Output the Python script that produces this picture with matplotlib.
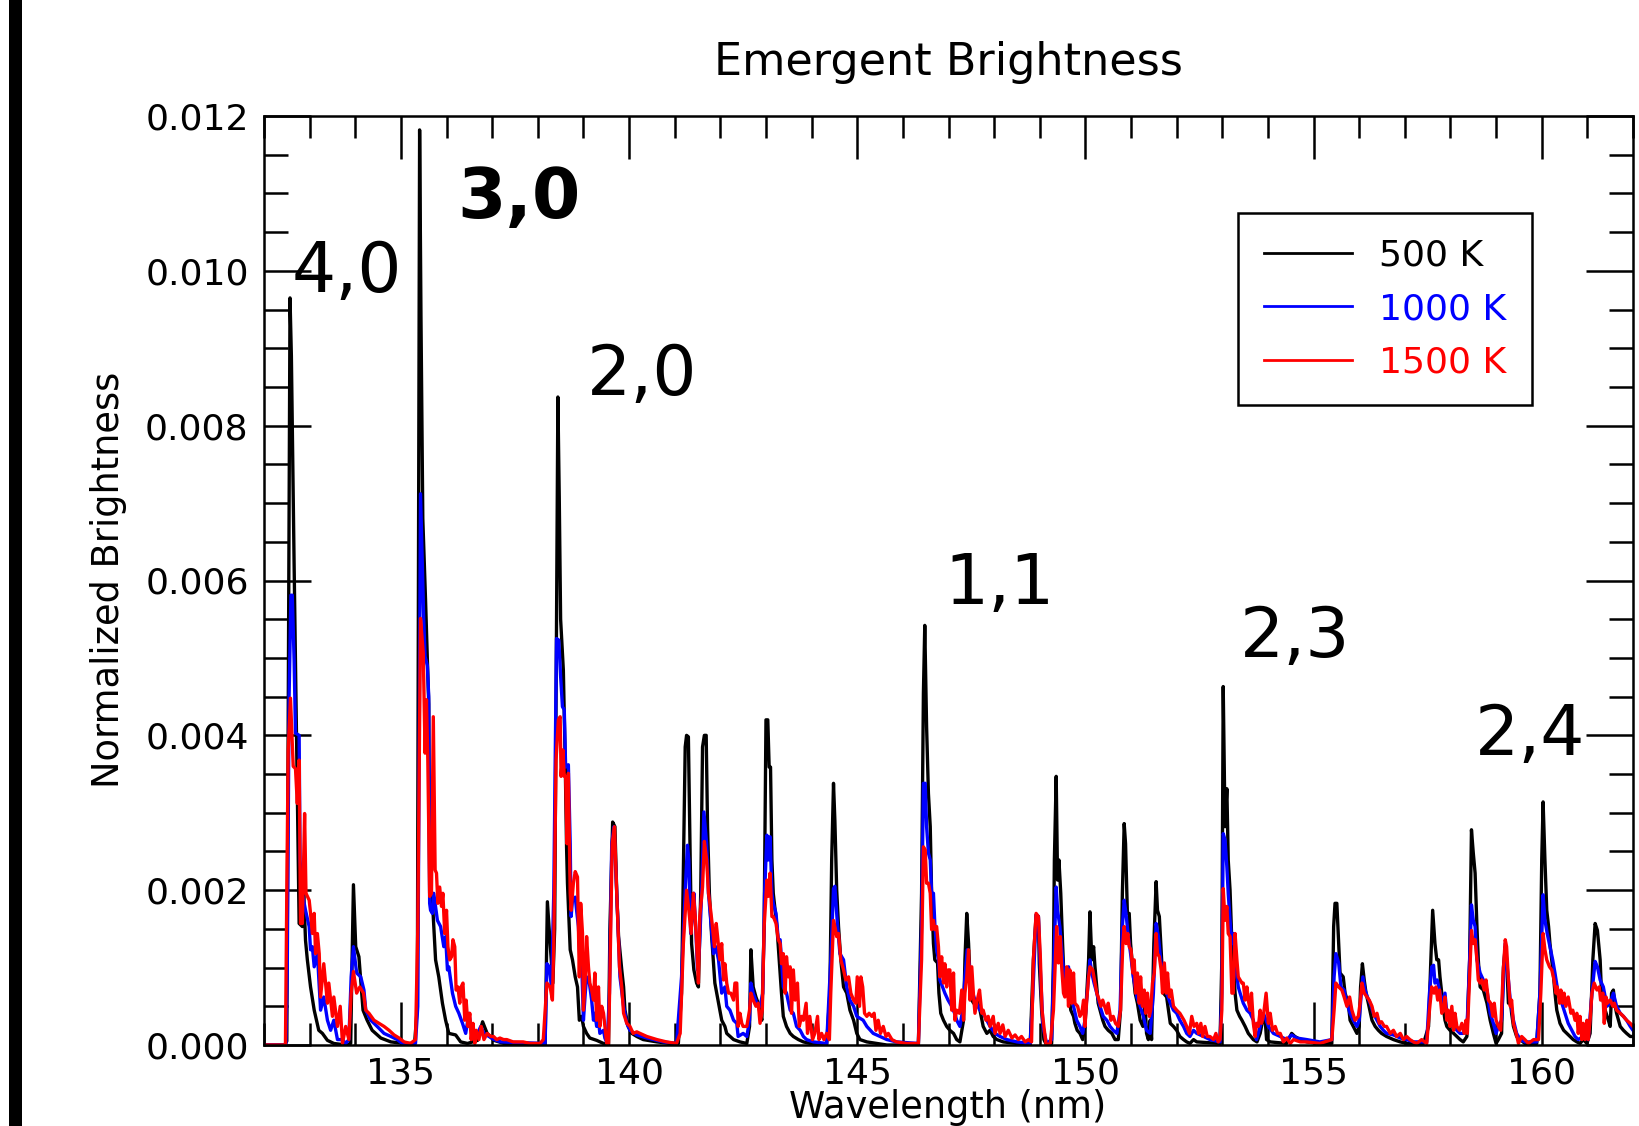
"""Emergent brightness spectra (500 K / 1000 K / 1500 K) with band labels."""

import matplotlib
matplotlib.use("Agg")
import matplotlib.pyplot as plt
import numpy as np
from matplotlib.patches import Rectangle
from matplotlib.ticker import FormatStrFormatter, MultipleLocator

# ── Data: (wavelength nm, normalized brightness in units of 1e-3) ───────────
SPEC_500K = [
    (132.00, 0.00), (132.45, 0.00), (132.50, 0.05), (132.57, 9.65), (132.60, 8.90),
    (132.66, 6.20), (132.77, 1.57), (132.84, 1.53), (132.87, 1.96), (132.91, 1.35),
    (132.95, 1.10), (133.02, 0.75), (133.10, 0.45), (133.20, 0.19), (133.28, 0.15),
    (133.39, 0.06), (133.53, 0.02), (133.80, 0.00), (133.90, 0.02), (133.93, 1.10),
    (133.96, 2.07), (134.01, 1.27), (134.08, 1.14), (134.13, 0.75), (134.17, 0.45),
    (134.26, 0.32), (134.37, 0.19), (134.56, 0.09), (134.78, 0.04), (135.07, 0.02),
    (135.30, 0.02), (135.36, 0.50), (135.41, 11.82), (135.44, 9.40), (135.48, 6.80),
    (135.54, 5.75), (135.58, 5.00), (135.61, 4.40), (135.63, 1.96), (135.69, 1.87),
    (135.76, 1.10), (135.83, 0.88), (135.91, 0.54), (135.98, 0.32), (136.05, 0.15),
    (136.20, 0.13), (136.31, 0.04), (136.46, 0.02), (136.68, 0.06), (136.79, 0.30),
    (136.89, 0.15), (137.04, 0.06), (137.26, 0.02), (137.68, 0.02), (138.12, 0.00),
    (138.16, 0.00), (138.21, 1.85), (138.27, 1.31), (138.33, 0.80), (138.37, 1.50),
    (138.40, 4.46), (138.44, 8.37), (138.47, 7.08), (138.50, 5.50), (138.56, 4.84),
    (138.60, 3.68), (138.63, 2.56), (138.65, 2.09), (138.71, 1.23), (138.76, 1.10),
    (138.82, 0.88), (138.87, 0.75), (138.91, 0.32), (138.96, 0.37), (139.00, 0.24),
    (139.07, 0.15), (139.14, 0.09), (139.29, 0.06), (139.44, 0.02), (139.55, 0.00),
    (139.58, 1.50), (139.64, 2.88), (139.69, 2.82), (139.73, 1.96), (139.77, 1.40),
    (139.84, 0.97), (139.88, 0.75), (139.91, 0.45), (139.98, 0.24), (140.06, 0.15),
    (140.17, 0.11), (140.31, 0.07), (140.61, 0.04), (140.90, 0.02), (141.08, 0.02),
    (141.15, 0.67), (141.23, 3.85), (141.26, 4.00), (141.30, 3.98), (141.34, 2.39),
    (141.37, 1.31), (141.42, 0.97), (141.48, 0.80), (141.52, 0.75), (141.57, 1.96),
    (141.61, 3.85), (141.65, 4.00), (141.69, 4.00), (141.72, 2.82), (141.76, 1.96),
    (141.81, 1.40), (141.88, 0.80), (141.96, 0.54), (142.03, 0.32), (142.10, 0.24),
    (142.14, 0.15), (142.29, 0.07), (142.43, 0.04), (142.58, 0.02), (142.64, 0.24),
    (142.67, 1.23), (142.72, 0.75), (142.78, 0.62), (142.83, 0.54), (142.87, 0.41),
    (142.91, 0.32), (142.96, 1.53), (143.00, 4.20), (143.04, 4.20), (143.07, 3.59),
    (143.10, 3.59), (143.13, 2.39), (143.16, 1.96), (143.24, 1.53), (143.29, 1.10),
    (143.34, 0.67), (143.38, 0.37), (143.45, 0.24), (143.53, 0.15), (143.60, 0.11),
    (143.71, 0.07), (143.82, 0.04), (143.97, 0.02), (144.33, 0.00), (144.40, 0.67),
    (144.44, 2.39), (144.48, 3.38), (144.51, 2.90), (144.55, 2.00), (144.59, 1.53),
    (144.64, 1.10), (144.70, 0.75), (144.77, 0.67), (144.84, 0.45), (144.92, 0.32),
    (144.99, 0.15), (145.06, 0.07), (145.21, 0.04), (145.43, 0.02), (145.65, 0.00),
    (146.34, 0.00), (146.41, 1.96), (146.45, 4.54), (146.48, 5.42), (146.52, 4.11),
    (146.56, 3.25), (146.60, 2.82), (146.63, 1.96), (146.67, 1.31), (146.70, 1.10),
    (146.76, 1.06), (146.79, 0.67), (146.83, 0.41), (146.89, 0.32), (146.96, 0.24),
    (147.03, 0.19), (147.11, 0.15), (147.18, 0.07), (147.25, 0.04), (147.33, 0.32),
    (147.36, 1.10), (147.40, 1.70), (147.44, 1.31), (147.47, 0.88), (147.51, 0.58),
    (147.55, 0.54), (147.62, 0.58), (147.69, 0.45), (147.76, 0.24), (147.84, 0.15),
    (147.91, 0.19), (147.98, 0.11), (148.06, 0.07), (148.20, 0.04), (148.50, 0.02),
    (148.79, 0.00), (148.86, 1.10), (148.92, 1.68), (148.97, 1.66), (148.99, 1.05),
    (149.04, 0.45), (149.09, 0.07), (149.15, 0.00), (149.26, 0.02), (149.30, 1.10),
    (149.32, 2.39), (149.36, 3.47), (149.39, 2.13), (149.42, 2.39), (149.46, 1.96),
    (149.50, 1.31), (149.53, 0.88), (149.59, 0.75), (149.63, 0.67), (149.68, 0.45),
    (149.74, 0.37), (149.77, 0.28), (149.82, 0.19), (149.88, 0.15), (149.94, 0.07),
    (149.99, 0.24), (150.03, 0.67), (150.07, 1.10), (150.10, 1.72), (150.14, 1.10),
    (150.18, 1.27), (150.21, 1.01), (150.25, 0.75), (150.28, 0.54), (150.32, 0.45),
    (150.38, 0.32), (150.43, 0.24), (150.50, 0.19), (150.58, 0.15), (150.65, 0.07),
    (150.72, 0.07), (150.77, 0.45), (150.81, 1.96), (150.85, 2.86), (150.88, 2.60),
    (150.92, 1.70), (150.96, 1.70), (150.99, 1.31), (151.04, 0.97), (151.09, 0.67),
    (151.14, 0.54), (151.20, 0.32), (151.26, 0.24), (151.31, 0.50), (151.34, 0.15),
    (151.38, 0.07), (151.42, 0.32), (151.45, 0.07), (151.50, 1.31), (151.55, 2.11),
    (151.58, 1.74), (151.62, 1.66), (151.67, 1.10), (151.71, 0.67), (151.78, 0.62),
    (151.86, 0.28), (151.93, 0.24), (152.00, 0.19), (152.07, 0.11), (152.15, 0.07),
    (152.22, 0.04), (152.29, 0.02), (152.37, 0.07), (152.44, 0.04), (152.95, 0.02),
    (152.99, 1.10), (153.02, 4.63), (153.06, 2.82), (153.10, 3.31), (153.13, 2.39),
    (153.17, 2.00), (153.21, 1.31), (153.24, 1.10), (153.28, 0.67), (153.32, 0.45),
    (153.38, 0.37), (153.43, 0.32), (153.50, 0.24), (153.57, 0.15), (153.68, 0.07),
    (153.76, 0.04), (153.83, 0.15), (153.90, 0.37), (153.94, 0.32), (153.97, 0.07),
    (154.05, 0.04), (154.41, 0.02), (154.52, 0.15), (154.59, 0.11), (154.71, 0.07),
    (154.85, 0.04), (155.14, 0.02), (155.40, 0.02), (155.44, 1.53), (155.47, 1.83),
    (155.51, 1.83), (155.55, 1.31), (155.58, 0.93), (155.65, 0.88), (155.69, 0.67),
    (155.76, 0.54), (155.80, 0.32), (155.87, 0.24), (155.95, 0.15), (156.00, 0.24),
    (156.03, 0.75), (156.07, 1.05), (156.11, 0.84), (156.15, 0.67), (156.20, 0.54),
    (156.28, 0.32), (156.35, 0.24), (156.42, 0.19), (156.49, 0.15), (156.60, 0.11),
    (156.75, 0.07), (156.90, 0.04), (157.04, 0.02), (157.41, 0.02), (157.52, 0.24),
    (157.57, 1.10), (157.61, 1.74), (157.66, 1.31), (157.70, 1.10), (157.74, 1.10),
    (157.77, 0.88), (157.81, 0.67), (157.85, 0.45), (157.88, 0.32), (157.92, 0.24),
    (157.99, 0.19), (158.07, 0.15), (158.14, 0.11), (158.21, 0.07), (158.28, 0.04),
    (158.36, 0.11), (158.42, 1.10), (158.46, 2.78), (158.50, 2.48), (158.54, 2.22),
    (158.58, 1.53), (158.61, 1.10), (158.65, 0.75), (158.72, 0.71), (158.80, 0.54),
    (158.87, 0.32), (158.94, 0.15), (159.00, 0.02), (159.05, 0.07), (159.12, 0.15),
    (159.16, 1.00), (159.20, 1.27), (159.23, 1.10), (159.27, 0.54), (159.31, 0.58),
    (159.34, 0.41), (159.38, 0.24), (159.45, 0.11), (159.53, 0.07), (159.63, 0.02),
    (159.89, 0.02), (159.96, 0.67), (160.00, 2.39), (160.03, 3.14), (160.07, 2.39),
    (160.11, 1.74), (160.15, 1.53), (160.18, 1.31), (160.22, 1.10), (160.26, 0.88),
    (160.29, 0.67), (160.33, 0.45), (160.40, 0.28), (160.48, 0.19), (160.55, 0.15),
    (160.62, 0.11), (160.69, 0.07), (160.77, 0.04), (160.84, 0.02), (160.91, 0.07),
    (160.99, 0.02), (161.06, 0.15), (161.12, 1.10), (161.17, 1.57), (161.22, 1.48),
    (161.28, 1.10), (161.31, 0.67), (161.39, 0.45), (161.46, 0.32), (161.50, 0.24),
    (161.53, 0.67), (161.57, 0.71), (161.61, 0.50), (161.64, 0.41), (161.72, 0.24),
    (161.79, 0.19), (161.86, 0.15), (161.94, 0.11), (162.00, 0.11),
]

SPEC_1000K = [
    (132.00, 0.00), (132.48, 0.00), (132.51, 1.00), (132.55, 4.50), (132.59, 5.81),
    (132.62, 5.81), (132.66, 4.97), (132.69, 4.03), (132.77, 4.00), (132.79, 2.39),
    (132.84, 1.96), (132.91, 1.74), (132.99, 1.53), (133.02, 1.23), (133.06, 1.27),
    (133.10, 1.01), (133.17, 1.18), (133.24, 0.45), (133.31, 0.62), (133.39, 0.32),
    (133.46, 0.19), (133.53, 0.32), (133.61, 0.07), (133.72, 0.07), (133.79, 0.02),
    (133.86, 0.07), (133.91, 0.88), (133.96, 1.27), (134.03, 0.93), (134.12, 0.88),
    (134.19, 0.71), (134.23, 0.45), (134.34, 0.32), (134.48, 0.24), (134.63, 0.15),
    (134.78, 0.11), (134.92, 0.07), (135.03, 0.02), (135.21, 0.00), (135.32, 0.02),
    (135.37, 0.50), (135.43, 7.12), (135.50, 5.50), (135.53, 5.02), (135.58, 4.90),
    (135.61, 4.50), (135.63, 1.83), (135.65, 1.74), (135.69, 1.70), (135.72, 1.96),
    (135.76, 1.79), (135.80, 1.61), (135.87, 1.53), (135.94, 1.27), (135.98, 1.40),
    (136.02, 0.97), (136.05, 1.01), (136.13, 0.67), (136.20, 0.50), (136.27, 0.41),
    (136.35, 0.28), (136.42, 0.15), (136.49, 0.41), (136.57, 0.11), (136.68, 0.15),
    (136.75, 0.24), (136.82, 0.15), (136.93, 0.11), (137.04, 0.07), (137.19, 0.04),
    (137.68, 0.03), (138.16, 0.02), (138.20, 1.05), (138.25, 1.01), (138.30, 0.75),
    (138.35, 1.96), (138.41, 5.25), (138.46, 5.23), (138.50, 4.76), (138.54, 4.37),
    (138.58, 4.33), (138.61, 3.59), (138.67, 3.62), (138.71, 2.60), (138.73, 1.66),
    (138.76, 1.87), (138.82, 1.91), (138.85, 1.74), (138.89, 1.53), (138.93, 1.01),
    (138.96, 1.10), (139.00, 0.32), (139.04, 0.67), (139.07, 0.88), (139.13, 0.80),
    (139.18, 0.58), (139.22, 0.32), (139.25, 0.41), (139.29, 0.24), (139.33, 0.32),
    (139.36, 0.15), (139.44, 0.19), (139.47, 0.09), (139.52, 0.02), (139.57, 0.67),
    (139.62, 2.60), (139.67, 2.82), (139.73, 1.96), (139.80, 0.88), (139.88, 0.50),
    (139.95, 0.28), (140.02, 0.19), (140.17, 0.13), (140.39, 0.09), (140.75, 0.04),
    (141.04, 0.02), (141.15, 0.88), (141.23, 1.99), (141.28, 2.58), (141.31, 2.39),
    (141.35, 1.44), (141.39, 1.66), (141.42, 1.96), (141.46, 1.53), (141.50, 0.97),
    (141.54, 1.23), (141.59, 1.96), (141.64, 3.01), (141.70, 2.60), (141.74, 1.96),
    (141.79, 1.61), (141.85, 1.18), (141.90, 1.27), (141.96, 1.10), (142.03, 0.67),
    (142.10, 0.75), (142.14, 0.50), (142.21, 0.45), (142.29, 0.32), (142.36, 0.28),
    (142.39, 0.11), (142.50, 0.15), (142.58, 0.11), (142.64, 0.32), (142.67, 0.80),
    (142.72, 0.67), (142.80, 0.54), (142.87, 0.50), (142.93, 0.67), (142.97, 1.96),
    (143.02, 2.71), (143.05, 2.39), (143.09, 2.69), (143.13, 1.96), (143.16, 1.83),
    (143.22, 1.70), (143.27, 1.36), (143.31, 1.36), (143.38, 0.75), (143.45, 0.67),
    (143.53, 0.45), (143.60, 0.41), (143.67, 0.24), (143.75, 0.19), (143.82, 0.11),
    (143.89, 0.07), (144.04, 0.04), (144.33, 0.02), (144.42, 1.10), (144.48, 2.02),
    (144.51, 2.05), (144.56, 1.61), (144.62, 1.18), (144.70, 1.10), (144.77, 0.75),
    (144.84, 0.58), (144.92, 0.50), (144.99, 0.37), (145.13, 0.32), (145.21, 0.24),
    (145.35, 0.15), (145.50, 0.11), (145.65, 0.07), (145.86, 0.04), (146.34, 0.02),
    (146.41, 1.53), (146.45, 3.38), (146.49, 3.38), (146.52, 2.82), (146.56, 2.48),
    (146.60, 2.39), (146.63, 1.96), (146.67, 1.96), (146.70, 1.57), (146.74, 1.23),
    (146.78, 1.10), (146.81, 0.84), (146.87, 0.75), (146.92, 0.67), (146.99, 0.58),
    (147.07, 0.50), (147.14, 0.40), (147.18, 0.32), (147.25, 0.24), (147.31, 0.45),
    (147.36, 0.88), (147.41, 1.23), (147.46, 1.01), (147.51, 0.71), (147.58, 0.58),
    (147.69, 0.45), (147.76, 0.41), (147.84, 0.32), (147.91, 0.24), (148.02, 0.15),
    (148.13, 0.11), (148.28, 0.07), (148.50, 0.04), (148.79, 0.02), (148.85, 0.67),
    (148.92, 1.68), (148.97, 1.66), (149.01, 1.01), (149.07, 0.24), (149.15, 0.02),
    (149.26, 0.07), (149.31, 1.10), (149.36, 2.04), (149.39, 1.74), (149.44, 1.53),
    (149.50, 1.10), (149.55, 0.75), (149.63, 1.01), (149.68, 0.67), (149.74, 0.50),
    (149.81, 0.32), (149.88, 0.24), (149.94, 0.15), (149.99, 0.32), (150.04, 0.67),
    (150.10, 1.10), (150.14, 0.93), (150.19, 0.80), (150.25, 0.67), (150.32, 0.50),
    (150.39, 0.37), (150.47, 0.32), (150.54, 0.24), (150.61, 0.19), (150.69, 0.15),
    (150.76, 0.45), (150.81, 1.53), (150.85, 1.87), (150.89, 1.70), (150.94, 1.40),
    (150.99, 1.18), (151.05, 0.88), (151.13, 0.62), (151.20, 0.50), (151.27, 0.37),
    (151.34, 0.19), (151.42, 0.15), (151.49, 0.67), (151.55, 1.57), (151.60, 1.40),
    (151.65, 1.10), (151.71, 0.84), (151.78, 0.67), (151.86, 0.54), (151.93, 0.45),
    (152.00, 0.41), (152.07, 0.32), (152.15, 0.24), (152.22, 0.15), (152.29, 0.11),
    (152.37, 0.19), (152.44, 0.15), (152.59, 0.11), (152.73, 0.07), (152.95, 0.04),
    (152.99, 0.67), (153.02, 2.73), (153.06, 2.65), (153.10, 2.30), (153.13, 1.96),
    (153.17, 1.61), (153.21, 1.31), (153.24, 1.44), (153.28, 1.10), (153.35, 0.75),
    (153.39, 0.67), (153.46, 0.54), (153.54, 0.45), (153.61, 0.41), (153.68, 0.32),
    (153.75, 0.07), (153.83, 0.24), (153.90, 0.41), (153.96, 0.32), (154.01, 0.24),
    (154.12, 0.15), (154.27, 0.11), (154.41, 0.07), (154.52, 0.13), (154.63, 0.09),
    (154.85, 0.07), (155.14, 0.04), (155.40, 0.07), (155.45, 0.88), (155.49, 1.18),
    (155.55, 1.06), (155.60, 0.75), (155.67, 0.71), (155.73, 0.54), (155.80, 0.41),
    (155.87, 0.32), (155.95, 0.24), (156.00, 0.32), (156.04, 0.62), (156.08, 0.88),
    (156.13, 0.71), (156.18, 0.62), (156.24, 0.54), (156.31, 0.41), (156.39, 0.32),
    (156.46, 0.24), (156.53, 0.19), (156.60, 0.15), (156.75, 0.13), (156.90, 0.09),
    (157.04, 0.07), (157.19, 0.04), (157.48, 0.04), (157.54, 0.67), (157.59, 1.01),
    (157.63, 1.03), (157.66, 0.80), (157.71, 0.84), (157.76, 0.71), (157.81, 0.54),
    (157.88, 0.67), (157.92, 0.41), (157.99, 0.32), (158.07, 0.24), (158.14, 0.19),
    (158.21, 0.15), (158.28, 0.15), (158.36, 0.19), (158.42, 1.10), (158.46, 1.81),
    (158.50, 1.61), (158.54, 1.53), (158.58, 1.10), (158.65, 0.93), (158.72, 0.84),
    (158.80, 0.71), (158.87, 0.41), (158.94, 0.28), (159.00, 0.15), (159.05, 0.24),
    (159.12, 0.32), (159.20, 1.31), (159.25, 0.97), (159.31, 0.58), (159.38, 0.32),
    (159.45, 0.15), (159.53, 0.07), (159.63, 0.04), (159.89, 0.04), (159.96, 0.67),
    (160.03, 1.94), (160.07, 1.61), (160.12, 1.44), (160.18, 1.27), (160.24, 1.10),
    (160.29, 0.93), (160.36, 0.67), (160.44, 0.54), (160.51, 0.41), (160.58, 0.28),
    (160.66, 0.19), (160.73, 0.11), (160.80, 0.07), (160.91, 0.11), (161.02, 0.07),
    (161.10, 0.67), (161.17, 1.08), (161.22, 1.01), (161.28, 0.84), (161.35, 0.75),
    (161.43, 0.50), (161.50, 0.54), (161.57, 0.67), (161.64, 0.50), (161.72, 0.41),
    (161.79, 0.37), (161.86, 0.32), (161.94, 0.24), (162.00, 0.19),
]

SPEC_1500K = [
    (132.00, 0.00), (132.47, 0.00), (132.50, 2.00), (132.53, 3.80), (132.58, 4.48),
    (132.64, 3.60), (132.69, 3.57), (132.73, 3.12), (132.77, 3.68), (132.80, 1.57),
    (132.84, 1.57), (132.89, 2.99), (132.92, 1.96), (132.99, 1.87), (133.02, 1.70),
    (133.06, 1.44), (133.10, 1.70), (133.13, 1.18), (133.17, 1.44), (133.21, 1.18),
    (133.24, 0.62), (133.31, 1.05), (133.39, 0.54), (133.42, 0.80), (133.50, 0.37),
    (133.53, 0.62), (133.61, 0.24), (133.67, 0.50), (133.72, 0.02), (133.79, 0.24),
    (133.86, 0.07), (133.91, 0.67), (133.96, 0.95), (134.03, 0.67), (134.10, 0.75),
    (134.18, 0.67), (134.23, 0.45), (134.30, 0.41), (134.41, 0.32), (134.52, 0.28),
    (134.63, 0.24), (134.74, 0.19), (134.85, 0.13), (134.96, 0.09), (135.07, 0.04),
    (135.21, 0.02), (135.32, 0.07), (135.37, 1.50), (135.43, 5.51), (135.49, 5.06),
    (135.53, 3.77), (135.56, 4.46), (135.59, 3.68), (135.63, 1.92), (135.67, 1.96),
    (135.71, 4.24), (135.75, 2.26), (135.78, 2.22), (135.81, 1.83), (135.85, 2.04),
    (135.89, 1.79), (135.92, 1.96), (135.96, 1.44), (136.00, 1.74), (136.03, 1.27),
    (136.07, 1.10), (136.11, 1.14), (136.14, 1.36), (136.18, 1.27), (136.21, 0.71),
    (136.25, 0.75), (136.29, 0.54), (136.32, 0.75), (136.36, 0.80), (136.40, 0.32),
    (136.43, 0.58), (136.47, 0.24), (136.51, 0.41), (136.54, 0.07), (136.58, 0.28),
    (136.62, 0.02), (136.65, 0.19), (136.71, 0.07), (136.76, 0.24), (136.82, 0.07),
    (136.89, 0.15), (136.97, 0.11), (137.03, 0.11), (137.10, 0.07), (137.17, 0.09),
    (137.25, 0.07), (137.32, 0.07), (137.46, 0.04), (137.61, 0.04), (137.68, 0.04),
    (137.83, 0.02), (137.98, 0.02), (138.05, 0.02), (138.12, 0.07), (138.20, 0.80),
    (138.27, 0.75), (138.32, 0.58), (138.35, 1.31), (138.40, 3.68), (138.45, 4.20),
    (138.49, 4.24), (138.51, 3.47), (138.55, 3.81), (138.58, 3.47), (138.61, 3.47),
    (138.64, 2.60), (138.67, 3.51), (138.71, 1.96), (138.73, 1.74), (138.78, 2.09),
    (138.82, 2.24), (138.87, 2.17), (138.91, 0.88), (138.94, 1.83), (138.98, 1.44),
    (139.00, 0.45), (139.04, 0.88), (139.07, 1.40), (139.11, 1.01), (139.14, 0.80),
    (139.18, 0.71), (139.22, 0.58), (139.25, 0.93), (139.29, 0.32), (139.33, 0.75),
    (139.36, 0.24), (139.40, 0.50), (139.44, 0.41), (139.47, 0.24), (139.51, 0.02),
    (139.55, 0.02), (139.58, 0.88), (139.63, 2.60), (139.68, 2.82), (139.73, 1.96),
    (139.79, 1.01), (139.84, 0.75), (139.88, 0.41), (139.95, 0.28), (140.02, 0.24),
    (140.09, 0.15), (140.17, 0.17), (140.24, 0.15), (140.39, 0.11), (140.61, 0.07),
    (140.82, 0.04), (141.04, 0.02), (141.12, 0.15), (141.19, 1.31), (141.26, 2.00),
    (141.31, 1.74), (141.36, 1.44), (141.41, 1.96), (141.45, 1.66), (141.48, 1.31),
    (141.52, 0.80), (141.55, 1.66), (141.61, 2.04), (141.65, 2.63), (141.70, 2.39),
    (141.74, 1.96), (141.77, 1.83), (141.82, 1.57), (141.87, 1.27), (141.91, 1.57),
    (141.94, 1.40), (141.99, 1.10), (142.03, 1.31), (142.07, 0.84), (142.10, 1.05),
    (142.14, 0.80), (142.18, 0.67), (142.23, 0.67), (142.29, 0.58), (142.32, 0.80),
    (142.36, 0.80), (142.39, 0.24), (142.43, 0.41), (142.47, 0.28), (142.50, 0.24),
    (142.58, 0.24), (142.64, 0.45), (142.67, 0.67), (142.72, 0.58), (142.78, 0.50),
    (142.83, 0.54), (142.87, 0.28), (142.92, 0.45), (142.96, 1.53), (143.02, 2.13),
    (143.05, 1.92), (143.09, 2.22), (143.13, 1.66), (143.16, 1.66), (143.22, 1.57),
    (143.27, 1.36), (143.31, 1.31), (143.34, 1.05), (143.38, 1.18), (143.42, 0.67),
    (143.45, 1.14), (143.49, 0.88), (143.53, 1.01), (143.56, 0.41), (143.60, 0.97),
    (143.64, 0.58), (143.69, 0.80), (143.73, 0.24), (143.78, 0.37), (143.82, 0.32),
    (143.88, 0.54), (143.91, 0.15), (143.96, 0.37), (144.02, 0.07), (144.07, 0.15),
    (144.13, 0.37), (144.16, 0.07), (144.22, 0.15), (144.27, 0.07), (144.33, 0.15),
    (144.39, 0.07), (144.42, 0.67), (144.48, 1.61), (144.51, 1.53), (144.55, 1.40),
    (144.59, 1.44), (144.64, 1.10), (144.70, 0.97), (144.75, 0.84), (144.81, 0.88),
    (144.86, 0.67), (144.92, 0.58), (144.97, 0.54), (145.00, 0.88), (145.05, 0.50),
    (145.08, 0.88), (145.12, 0.75), (145.16, 0.41), (145.21, 0.37), (145.26, 0.41),
    (145.32, 0.37), (145.37, 0.41), (145.41, 0.19), (145.46, 0.32), (145.51, 0.15),
    (145.57, 0.24), (145.63, 0.11), (145.68, 0.15), (145.76, 0.07), (145.86, 0.04),
    (146.08, 0.02), (146.34, 0.02), (146.41, 1.10), (146.45, 2.56), (146.49, 2.52),
    (146.52, 2.09), (146.56, 2.09), (146.60, 1.96), (146.63, 1.49), (146.67, 1.61),
    (146.70, 1.49), (146.74, 1.53), (146.78, 1.27), (146.81, 0.88), (146.85, 1.14),
    (146.89, 0.80), (146.92, 1.05), (146.96, 0.75), (146.99, 0.97), (147.03, 0.97),
    (147.07, 0.45), (147.11, 0.93), (147.14, 0.32), (147.18, 0.45), (147.24, 0.41),
    (147.29, 0.71), (147.33, 0.32), (147.36, 0.67), (147.40, 0.88), (147.44, 1.23),
    (147.47, 0.58), (147.51, 1.01), (147.55, 0.62), (147.58, 0.41), (147.63, 0.58),
    (147.68, 0.71), (147.73, 0.41), (147.76, 0.45), (147.82, 0.32), (147.87, 0.37),
    (147.91, 0.24), (147.98, 0.37), (148.02, 0.15), (148.09, 0.28), (148.13, 0.15),
    (148.19, 0.26), (148.24, 0.11), (148.31, 0.19), (148.39, 0.09), (148.46, 0.13),
    (148.53, 0.07), (148.60, 0.11), (148.68, 0.04), (148.75, 0.07), (148.82, 0.04),
    (148.86, 1.10), (148.92, 1.70), (148.97, 1.66), (149.01, 1.18), (149.05, 0.45),
    (149.09, 0.24), (149.14, 0.00), (149.23, 0.02), (149.30, 0.45), (149.34, 1.06),
    (149.37, 1.53), (149.41, 1.06), (149.45, 1.40), (149.48, 1.01), (149.52, 0.67),
    (149.55, 0.62), (149.59, 1.01), (149.63, 0.50), (149.66, 0.97), (149.70, 0.54),
    (149.74, 0.93), (149.77, 0.54), (149.83, 0.50), (149.88, 0.37), (149.92, 0.41),
    (149.96, 0.58), (149.99, 0.24), (150.03, 0.58), (150.07, 0.88), (150.10, 1.01),
    (150.16, 0.97), (150.21, 0.80), (150.25, 0.67), (150.28, 0.62), (150.34, 0.50),
    (150.38, 0.58), (150.42, 0.50), (150.47, 0.41), (150.50, 0.54), (150.56, 0.32),
    (150.61, 0.37), (150.66, 0.28), (150.72, 0.24), (150.77, 0.45), (150.82, 1.31),
    (150.85, 1.53), (150.89, 1.31), (150.93, 1.44), (150.96, 1.27), (151.00, 1.23),
    (151.04, 0.93), (151.07, 1.10), (151.10, 0.67), (151.14, 0.93), (151.18, 0.54),
    (151.21, 0.88), (151.25, 0.50), (151.29, 0.71), (151.32, 0.41), (151.36, 0.67),
    (151.40, 0.37), (151.43, 0.45), (151.47, 0.80), (151.51, 0.93), (151.55, 1.44),
    (151.58, 1.18), (151.62, 1.14), (151.66, 0.97), (151.69, 0.67), (151.73, 1.06),
    (151.77, 0.67), (151.80, 0.93), (151.84, 0.62), (151.88, 0.71), (151.93, 0.50),
    (152.00, 0.45), (152.07, 0.41), (152.16, 0.32), (152.22, 0.24), (152.28, 0.15),
    (152.33, 0.37), (152.38, 0.24), (152.44, 0.28), (152.48, 0.15), (152.53, 0.28),
    (152.57, 0.11), (152.62, 0.24), (152.67, 0.11), (152.73, 0.11), (152.81, 0.07),
    (152.86, 0.15), (152.91, 0.04), (152.95, 0.07), (152.99, 0.45), (153.02, 2.02),
    (153.06, 1.61), (153.10, 1.79), (153.13, 1.44), (153.17, 1.40), (153.21, 0.67),
    (153.24, 0.67), (153.28, 1.44), (153.32, 1.10), (153.35, 0.88), (153.39, 0.84),
    (153.43, 0.80), (153.46, 0.80), (153.50, 0.58), (153.54, 0.75), (153.57, 0.58),
    (153.61, 0.45), (153.64, 0.67), (153.68, 0.28), (153.72, 0.11), (153.75, 0.28),
    (153.79, 0.24), (153.83, 0.45), (153.86, 0.28), (153.90, 0.37), (153.96, 0.67),
    (154.01, 0.28), (154.05, 0.41), (154.10, 0.19), (154.16, 0.24), (154.21, 0.15),
    (154.27, 0.15), (154.34, 0.04), (154.41, 0.09), (154.49, 0.02), (154.56, 0.07),
    (154.71, 0.04), (154.85, 0.04), (155.14, 0.02), (155.40, 0.07), (155.45, 0.45),
    (155.49, 0.80), (155.55, 0.75), (155.62, 0.71), (155.67, 0.62), (155.73, 0.50),
    (155.79, 0.62), (155.84, 0.45), (155.91, 0.32), (155.98, 0.37), (156.02, 0.54),
    (156.06, 0.80), (156.11, 0.67), (156.17, 0.62), (156.22, 0.58), (156.28, 0.50),
    (156.33, 0.37), (156.39, 0.41), (156.44, 0.28), (156.49, 0.30), (156.55, 0.24),
    (156.60, 0.24), (156.68, 0.15), (156.75, 0.19), (156.82, 0.11), (156.90, 0.15),
    (156.97, 0.07), (157.04, 0.11), (157.11, 0.07), (157.19, 0.04), (157.26, 0.02),
    (157.37, 0.07), (157.48, 0.02), (157.54, 0.45), (157.59, 0.75), (157.64, 0.67),
    (157.68, 0.75), (157.72, 0.58), (157.76, 0.71), (157.81, 0.41), (157.85, 0.45),
    (157.88, 0.62), (157.92, 0.32), (157.95, 0.45), (157.99, 0.24), (158.03, 0.50),
    (158.07, 0.19), (158.10, 0.41), (158.14, 0.24), (158.20, 0.19), (158.25, 0.28),
    (158.30, 0.15), (158.34, 0.32), (158.37, 0.15), (158.42, 0.88), (158.46, 1.48),
    (158.50, 1.31), (158.54, 1.36), (158.58, 1.10), (158.61, 0.84), (158.65, 0.80),
    (158.69, 0.84), (158.74, 0.71), (158.78, 0.84), (158.83, 0.58), (158.88, 0.54),
    (158.93, 0.37), (158.96, 0.54), (159.00, 0.32), (159.05, 0.24), (159.10, 0.19),
    (159.15, 0.88), (159.20, 1.36), (159.23, 1.27), (159.27, 0.84), (159.31, 0.50),
    (159.34, 0.58), (159.38, 0.28), (159.44, 0.15), (159.49, 0.02), (159.56, 0.11),
    (159.63, 0.07), (159.71, 0.02), (159.82, 0.07), (159.93, 0.07), (159.98, 0.67),
    (160.03, 1.44), (160.07, 1.23), (160.11, 1.10), (160.17, 1.01), (160.22, 0.97),
    (160.27, 0.84), (160.31, 0.67), (160.34, 0.75), (160.39, 0.54), (160.42, 0.71),
    (160.46, 0.54), (160.49, 0.67), (160.53, 0.50), (160.58, 0.62), (160.64, 0.41),
    (160.68, 0.45), (160.73, 0.32), (160.77, 0.41), (160.80, 0.15), (160.84, 0.37),
    (160.88, 0.07), (160.91, 0.28), (160.95, 0.07), (160.99, 0.32), (161.02, 0.07),
    (161.06, 0.32), (161.10, 0.67), (161.15, 0.80), (161.21, 0.71), (161.26, 0.75),
    (161.29, 0.58), (161.34, 0.67), (161.37, 0.28), (161.41, 0.62), (161.44, 0.54),
    (161.50, 0.58), (161.56, 0.50), (161.59, 0.54), (161.64, 0.45), (161.72, 0.41),
    (161.79, 0.37), (161.86, 0.32), (161.94, 0.28), (162.00, 0.24),
]

SERIES_LABELS = ["500 K", "1000 K", "1500 K"]
SERIES_COLORS = ["black", "blue", "red"]

# band annotations (v', v'') placed in data coordinates
BAND_TEXT = ["4,0", "3,0", "2,0", "1,1", "2,3", "2,4"]
BAND_X = [132.61, 136.23, 139.08, 146.90, 153.39, 158.54]
BAND_Y = [0.00973, 0.01068, 0.00840, 0.00570, 0.00501, 0.00375]
BAND_BOLD = [False, True, False, False, False, False]

W, H = 1639, 1126


def main() -> None:
    plt.rcParams.update({"font.family": "DejaVu Sans"})

    fig = plt.figure(figsize=(W / 100, H / 100), dpi=100)
    ax = fig.add_axes([264 / W, 1 - 1045 / H, 1369 / W, 929 / H])

    for spec, label, color in zip((SPEC_500K, SPEC_1000K, SPEC_1500K),
                                  SERIES_LABELS, SERIES_COLORS):
        arr = np.asarray(spec)
        ax.plot(arr[:, 0], arr[:, 1] * 1e-3, color=color, lw=2.4, label=label)

    ax.set_xlim(132, 162)
    ax.set_ylim(0, 0.012)
    ax.xaxis.set_major_locator(MultipleLocator(5))
    ax.xaxis.set_minor_locator(MultipleLocator(1))
    ax.yaxis.set_major_locator(MultipleLocator(0.002))
    ax.yaxis.set_minor_locator(MultipleLocator(0.0005))
    ax.yaxis.set_major_formatter(FormatStrFormatter("%.3f"))

    ax.tick_params(which="both", direction="in", top=True, right=True,
                   width=1.8, labelsize=26, colors="black")
    ax.tick_params(axis="x", which="major", length=31, pad=8)
    ax.tick_params(axis="x", which="minor", length=16)
    ax.tick_params(axis="y", which="major", length=34, pad=11)
    ax.tick_params(axis="y", which="minor", length=17)
    for sp in ax.spines.values():
        sp.set_linewidth(1.8)

    for txt, x, y, bold in zip(BAND_TEXT, BAND_X, BAND_Y, BAND_BOLD):
        ax.text(x, y, txt, fontsize=50, ha="left", va="baseline",
                fontweight="bold" if bold else "normal")

    leg = ax.legend(loc="upper right", bbox_to_anchor=(0.926, 0.8956),
                    fontsize=26, frameon=True, fancybox=False, framealpha=1,
                    edgecolor="black", handlelength=2.45, handletextpad=0.75,
                    labelspacing=0.55, borderpad=0.7, borderaxespad=0,
                    labelcolor="linecolor")
    leg.get_frame().set_linewidth(1.8)
    for line in leg.get_lines():
        line.set_linewidth(2.0)

    fig.text(948 / W, 1 - 63 / H, "Emergent Brightness", fontsize=32,
             ha="center", va="center")
    fig.text(948 / W, 1 - 1108 / H, "Wavelength (nm)", fontsize=26.5,
             ha="center", va="center")
    fig.text(109 / W, 1 - 580 / H, "Normalized Brightness", fontsize=26.5,
             ha="center", va="center", rotation=90)

    # thick bar along the left edge of the page
    fig.add_artist(Rectangle((9 / W, 0), 13 / W, 1, transform=fig.transFigure,
                             facecolor="black", edgecolor="none"))

    fig.savefig("out.png", dpi=100, facecolor="white")


if __name__ == "__main__":
    main()
